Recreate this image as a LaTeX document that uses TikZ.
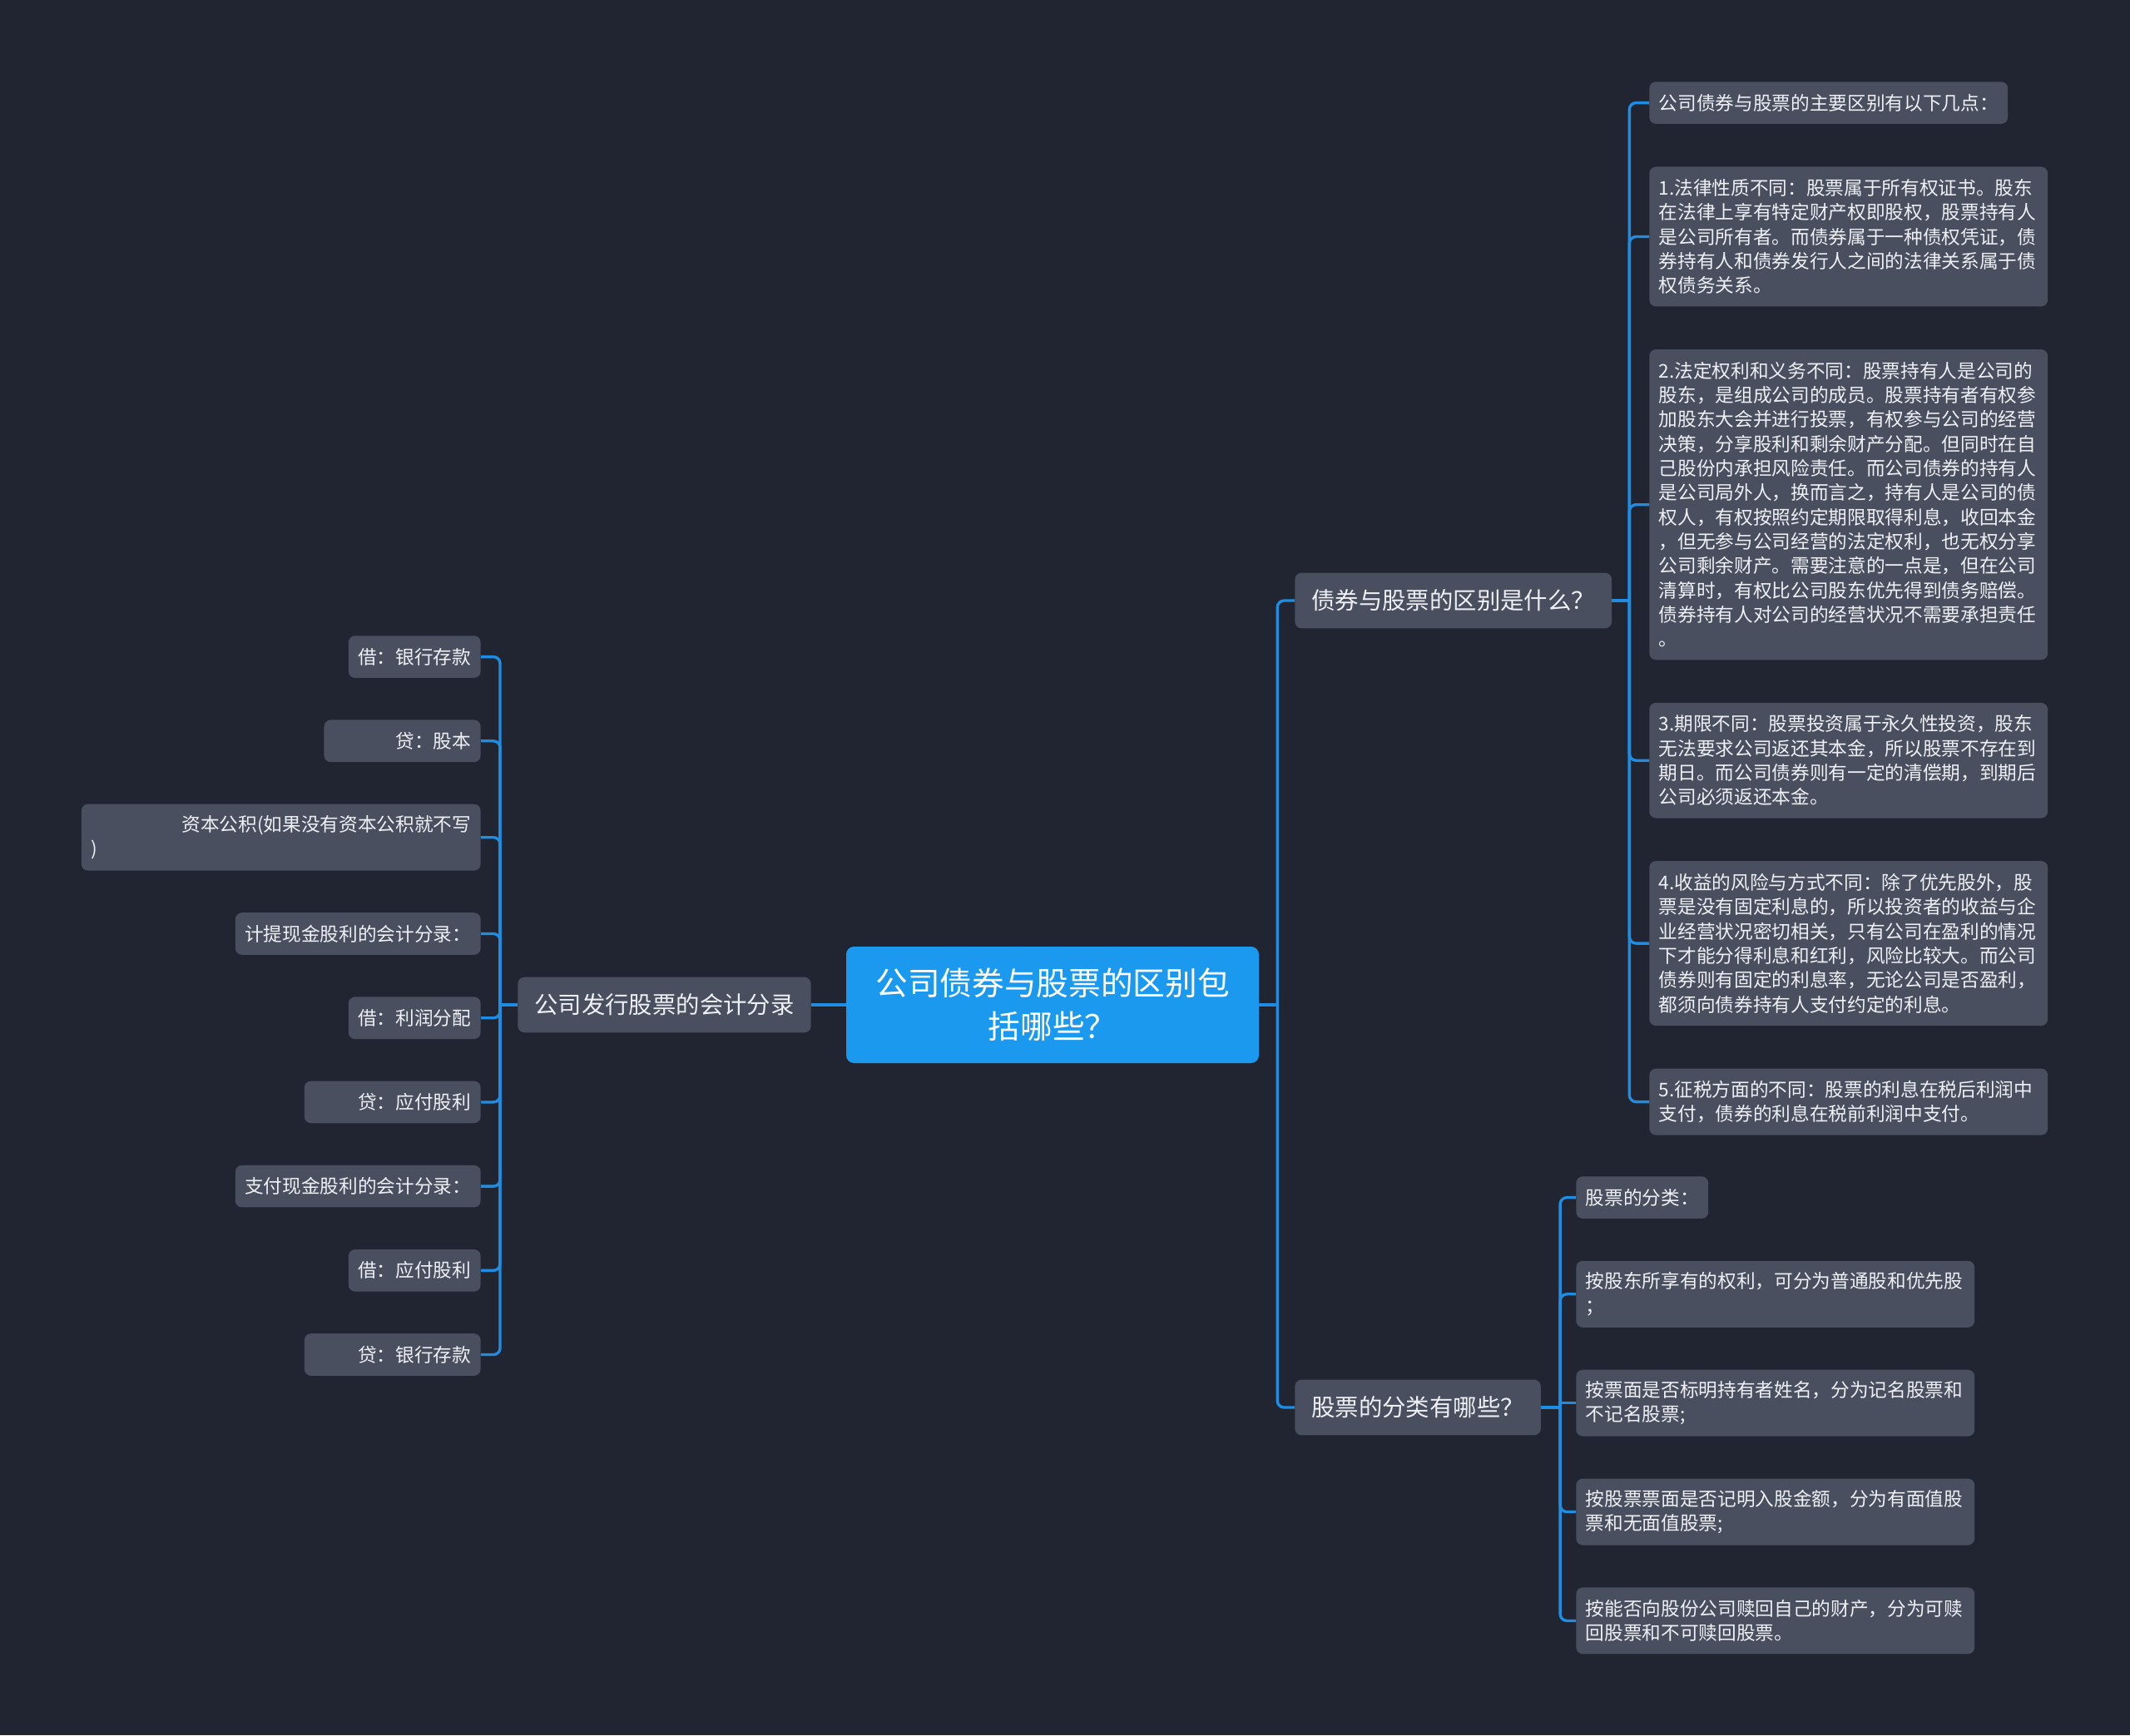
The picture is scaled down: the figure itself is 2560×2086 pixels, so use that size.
\documentclass[tikz,border=0pt]{standalone}
\usepackage{fontspec}
\setmainfont{Noto Sans CJK SC}
\usetikzlibrary{positioning}
\definecolor{canvasdark}{RGB}{33, 37, 49}
\definecolor{nodegray}{RGB}{73, 79, 94}
\definecolor{rootblue}{RGB}{26, 153, 239}
\definecolor{linkblue}{RGB}{31, 142, 226}
\definecolor{textlight}{RGB}{238, 240, 245}
\tikzset{
  rootbox/.style={rectangle, rounded corners=7pt, fill=rootblue, text=white,
              minimum width=372pt, minimum height=105pt, align=center,
              font=\fontsize{29}{39}\selectfont},
  topicbox/.style={rectangle, rounded corners=6pt, fill=nodegray, text=textlight,
              minimum height=50pt, inner xsep=15pt, font=\fontsize{21.3}{28}\selectfont},
  leafbox/.style={rectangle, rounded corners=6pt, fill=nodegray, text=textlight,
              text width=#1, align=left, minimum height=38pt, inner xsep=8.6pt,
              inner ysep=5pt, font=\fontsize{17}{22}\selectfont},
  leafbox/.default=342pt,
  shortbox/.style={rectangle, rounded corners=6pt, fill=nodegray, text=textlight,
              minimum height=38pt, inner xsep=8.6pt, inner ysep=5pt,
              font=\fontsize{17}{22}\selectfont},
  debitbox/.style={rectangle, rounded corners=6pt, fill=nodegray, text=textlight,
              text width=#1, align=right, minimum height=38pt, inner xsep=8.6pt,
              inner ysep=5pt, font=\fontsize{17}{22}\selectfont},
  debitbox/.default=124pt,
  link/.style={draw=linkblue, line width=2.5pt},
  branch/.style={draw=linkblue, line width=2.5pt, rounded corners=6pt},
}
\begin{document}
\begin{tikzpicture}[x=0.75pt, y=-0.75pt]
  \fill[canvasdark] (0,0) rectangle (2560,2086);
  \useasboundingbox (0,0) rectangle (2560,2086);

  \node[rootbox] (root) at (1265,1208) {公司债券与股票的区别包\\括哪些？};

  \node[topicbox, anchor=west] (qa) at (1556,722) {债券与股票的区别是什么？};
  \node[topicbox, anchor=west] (qb) at (1556,1692) {股票的分类有哪些？};
  \node[topicbox, anchor=east] (ql) at (975,1208) {公司发行股票的会计分录};

  % differences between bonds and shares
  \node[shortbox, anchor=north west] (a0) at (1982,98) {公司债券与股票的主要区别有以下几点：};
  \node[leafbox, minimum height=126pt, below=38.25pt of a0.south west, anchor=north west] (a1)
       {1.法律性质不同：股票属于所有权证书。股东\\在法律上享有特定财产权即股权，股票持有人\\是公司所有者。而债券属于一种债权凭证，债\\券持有人和债券发行人之间的法律关系属于债\\权债务关系。};
  \node[leafbox, minimum height=280pt, below=38.25pt of a1.south west, anchor=north west] (a2)
       {2.法定权利和义务不同：股票持有人是公司的\\股东，是组成公司的成员。股票持有者有权参\\加股东大会并进行投票，有权参与公司的经营\\决策，分享股利和剩余财产分配。但同时在自\\己股份内承担风险责任。而公司债券的持有人\\是公司局外人，换而言之，持有人是公司的债\\权人，有权按照约定期限取得利息，收回本金\\，但无参与公司经营的法定权利，也无权分享\\公司剩余财产。需要注意的一点是，但在公司\\清算时，有权比公司股东优先得到债务赔偿。\\债券持有人对公司的经营状况不需要承担责任\\。};
  \node[leafbox, minimum height=104pt, below=38.25pt of a2.south west, anchor=north west] (a3)
       {3.期限不同：股票投资属于永久性投资，股东\\无法要求公司返还其本金，所以股票不存在到\\期日。而公司债券则有一定的清偿期，到期后\\公司必须返还本金。};
  \node[leafbox, minimum height=148.5pt, below=38.25pt of a3.south west, anchor=north west] (a4)
       {4.收益的风险与方式不同：除了优先股外，股\\票是没有固定利息的，所以投资者的收益与企\\业经营状况密切相关，只有公司在盈利的情况\\下才能分得利息和红利，风险比较大。而公司\\债券则有固定的利息率，无论公司是否盈利，\\都须向债券持有人支付约定的利息。};
  \node[leafbox, minimum height=60pt, below=38.25pt of a4.south west, anchor=north west] (a5)
       {5.征税方面的不同：股票的利息在税后利润中\\支付，债券的利息在税前利润中支付。};

  % kinds of shares
  \node[shortbox, anchor=north west] (b0) at (1894,1414) {股票的分类：};
  \node[leafbox, minimum height=60pt, below=37.75pt of b0.south west, anchor=north west] (b1)
       {按股东所享有的权利，可分为普通股和优先股\\；};
  \node[leafbox, minimum height=60pt, below=37.75pt of b1.south west, anchor=north west] (b2)
       {按票面是否标明持有者姓名，分为记名股票和\\不记名股票;};
  \node[leafbox, minimum height=60pt, below=37.75pt of b2.south west, anchor=north west] (b3)
       {按股票票面是否记明入股金额，分为有面值股\\票和无面值股票;};
  \node[leafbox, minimum height=60pt, below=37.75pt of b3.south west, anchor=north west] (b4)
       {按能否向股份公司赎回自己的财产，分为可赎\\回股票和不可赎回股票。};

  % journal entries
  \node[shortbox, anchor=north east] (c0) at (578,764) {借：银行存款};
  \node[debitbox, below=37.5pt of c0.south east, anchor=north east] (c1) {贷：股本};
  \node[leafbox=342.75pt, minimum height=60pt, below=37.5pt of c1.south east, anchor=north east] (c2)
       {\null\hfill 资本公积(如果没有资本公积就不写\\)};
  \node[shortbox, below=37.5pt of c2.south east, anchor=north east] (c3) {计提现金股利的会计分录：};
  \node[shortbox, below=37.5pt of c3.south east, anchor=north east] (c4) {借：利润分配};
  \node[debitbox=141.75pt, below=37.5pt of c4.south east, anchor=north east] (c5) {贷：应付股利};
  \node[shortbox, below=37.5pt of c5.south east, anchor=north east] (c6) {支付现金股利的会计分录：};
  \node[shortbox, below=37.5pt of c6.south east, anchor=north east] (c7) {借：应付股利};
  \node[debitbox=141.75pt, below=37.5pt of c7.south east, anchor=north east] (c8) {贷：银行存款};

  % junctions on the spines
  \path (root.east) ++(22,0) coordinate (rootj);
  \path (qa.east) ++(21,0) coordinate (qaj);
  \path (qb.east) ++(23,0) coordinate (qbj);
  \path (ql.west) ++(-21,0) coordinate (qlj);

  \draw[link] (root.east) -- (rootj);
  \draw[branch] (rootj) |- (qa.west);
  \draw[branch] (rootj) |- (qb.west);
  \draw[link] (root.west) -- (ql.east);

  \draw[link] (qa.east) -- (qaj);
  \draw[branch] (qaj) |- (a0.west);
  \draw[branch] (qaj) |- (a1.west);
  \draw[branch] (qaj) |- (a2.west);
  \draw[branch] (qaj) |- (a3.west);
  \draw[branch] (qaj) |- (a4.west);
  \draw[branch] (qaj) |- (a5.west);

  \draw[link] (qb.east) -- (qbj);
  \draw[branch] (qbj) |- (b0.west);
  \draw[branch] (qbj) |- (b1.west);
  \draw[link] (qbj) |- (b2.west);
  \draw[branch] (qbj) |- (b3.west);
  \draw[branch] (qbj) |- (b4.west);

  \draw[link] (ql.west) -- (qlj);
  \draw[branch] (qlj) |- (c0.east);
  \draw[branch] (qlj) |- (c1.east);
  \draw[branch] (qlj) |- (c2.east);
  \draw[branch] (qlj) |- (c3.east);
  \draw[branch] (qlj) |- (c4.east);
  \draw[branch] (qlj) |- (c5.east);
  \draw[branch] (qlj) |- (c6.east);
  \draw[branch] (qlj) |- (c7.east);
  \draw[branch] (qlj) |- (c8.east);
\end{tikzpicture}
\end{document}
